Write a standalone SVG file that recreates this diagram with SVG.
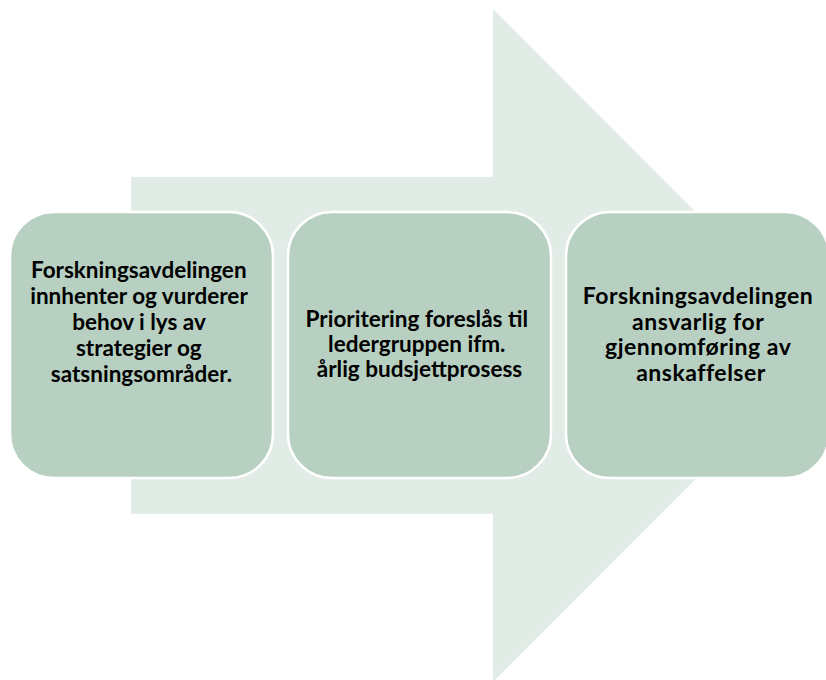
<svg xmlns="http://www.w3.org/2000/svg" width="826" height="680" viewBox="0 0 826 680">
<style>
.box{fill:#b7d0c1;stroke:#ffffff;stroke-width:2.5}
.t{font-family:Lato,"Liberation Sans",sans-serif;font-weight:bold;fill:#000000;text-anchor:middle}
</style>
<rect width="826" height="680" fill="#ffffff"/>
<g id="arrow">
<polygon points="131,177 493,177 493,9 829,345.5 493,682 493,514 131,514" fill="#e2ece7"/>
</g>
<g id="connectors"></g>
<g id="node1">
<rect class="box" x="10" y="212" width="263" height="266" rx="44" ry="44"/>
<text class="t" font-size="22.5">
<tspan x="141.5" y="278">Forskningsavdelingen</tspan>
<tspan x="141.5" y="304">innhenter og vurderer</tspan>
<tspan x="141.5" y="330">behov i lys av</tspan>
<tspan x="141.5" y="356">strategier og</tspan>
<tspan x="141.5" y="382">satsningsområder.</tspan>
</text>
</g>
<g id="node2">
<rect class="box" x="288" y="212" width="263" height="266" rx="44" ry="44"/>
<text class="t" font-size="22.5">
<tspan x="419.5" y="327">Prioritering foreslås til</tspan>
<tspan x="419.5" y="352">ledergruppen ifm.</tspan>
<tspan x="419.5" y="377">årlig budsjettprosess</tspan>
</text>
</g>
<g id="node3">
<rect class="box" x="566" y="212" width="263" height="266" rx="44" ry="44"/>
<text class="t" font-size="23" letter-spacing="0.5">
<tspan x="701" y="304">Forskningsavdelingen</tspan>
<tspan x="701" y="329.5">ansvarlig for</tspan>
<tspan x="701" y="355">gjennomføring av</tspan>
<tspan x="701" y="380.5">anskaffelser</tspan>
</text>
</g>
</svg>
